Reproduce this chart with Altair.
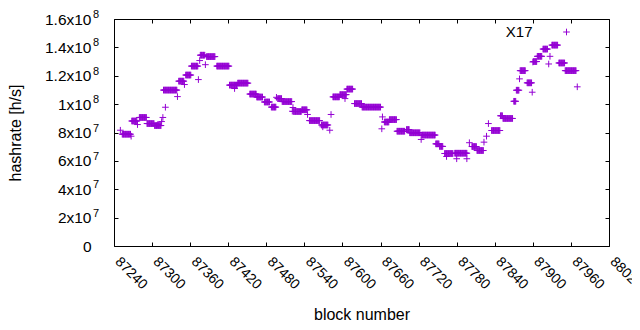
import altair as alt
import pandas as pd

# ---- data (hashrate values in units of 1e7 h/s) ----
# runs of consecutive blocks that share one hashrate value
plat_start = [87253, 87268, 87280, 87292, 87304, 87318, 87342, 87353, 87362, 87376,
              87386, 87402, 87422, 87435, 87454, 87465, 87477, 87488, 87498, 87505,
              87523, 87536, 87548, 87567, 87585, 87596, 87607, 87619, 87631, 87666,
              87674, 87686, 87701, 87706, 87725, 87747, 87753, 87761, 87777, 87804,
              87812, 87835, 87849, 87853, 87870, 87874, 87880, 87891, 87901, 87907,
              87916, 87930, 87941, 87951]
plat_end = [87266, 87276, 87291, 87303, 87314, 87339, 87350, 87361, 87372, 87383,
            87399, 87421, 87434, 87451, 87464, 87474, 87485, 87495, 87504, 87520,
            87535, 87544, 87564, 87577, 87595, 87606, 87616, 87630, 87660, 87673,
            87685, 87698, 87705, 87722, 87746, 87752, 87758, 87774, 87796, 87811,
            87822, 87848, 87852, 87868, 87873, 87878, 87888, 87898, 87906, 87914,
            87923, 87939, 87950, 87968]
plat_val = [7.88, 8.81, 9.06, 8.63, 8.49, 10.99, 11.62, 12.05, 12.68, 13.45,
            13.35, 12.68, 11.34, 11.48, 10.71, 10.50, 10.15, 9.79, 10.39, 10.18,
            9.48, 9.60, 8.84, 8.53, 10.51, 10.67, 11.06, 10.04, 9.79, 8.74,
            8.91, 8.09, 8.21, 7.98, 7.82, 7.20, 7.02, 6.52, 6.54, 7.01,
            6.73, 8.14, 9.18, 8.99, 10.20, 10.98, 12.36, 11.50, 13.00, 13.37,
            13.88, 14.16, 12.90, 12.36]

# single scattered blocks
pt_block = [87250, 87267, 87277, 87309, 87315, 87317, 87321, 87340, 87351, 87373,
            87375, 87384, 87430, 87496, 87521, 87522, 87545, 87569, 87580, 87582,
            87604, 87662, 87663, 87724, 87764, 87780, 87796, 87800, 87823, 87827,
            87830, 87879, 87899, 87900, 87925, 87927, 87970]
pt_val = [8.16, 7.74, 8.56, 8.56, 8.77, 9.06, 9.78, 10.53, 11.38, 11.73,
          13.07, 12.78, 11.10, 10.48, 9.50, 9.76, 9.27, 8.40, 8.16, 9.27,
          10.39, 8.26, 9.10, 7.51, 6.31, 6.15, 6.15, 7.28, 7.32, 7.74,
          8.63, 11.78, 10.84, 12.97, 12.83, 13.37, 11.22]

series_name = "X17"
x_ticks = [87240, 87300, 87360, 87420, 87480, 87540, 87600, 87660, 87720,
           87780, 87840, 87900, 87960, 88020]
y_ticks = [0, 2e7, 4e7, 6e7, 8e7, 1e8, 1.2e8, 1.4e8, 1.6e8]
y_tick_mant = ["0", "2x10", "4x10", "6x10", "8x10", "1x10", "1.2x10", "1.4x10", "1.6x10"]
y_tick_exp = ["", "7", "7", "7", "7", "8", "8", "8", "8"]

rows = []
for s, e, v in zip(plat_start, plat_end, plat_val):
    for b in range(s, e + 1):
        rows.append({"block": b, "hashrate": v * 1e7, "series": series_name})
for b, v in zip(pt_block, pt_val):
    rows.append({"block": b, "hashrate": v * 1e7, "series": series_name})
df = pd.DataFrame(rows)
key_df = pd.DataFrame({"series": [series_name]})
exp_df = pd.DataFrame({"tick": y_ticks, "exp": y_tick_exp})
exp_df = exp_df[exp_df["exp"] != ""]

PLUS = "M-1,0L1,0M0,-1L0,1"
FONT = "Liberation Sans"
PURPLE = "#9400D3"

ylabel_expr = "[" + ",".join("'" + t + "'" for t in y_tick_mant) + "][round(datum.value/20000000)]"

xscale = alt.Scale(domain=[x_ticks[0], x_ticks[-1]], nice=False, zero=False)
yscale = alt.Scale(domain=[y_ticks[0], y_ticks[-1]], nice=False, zero=True)
cscale = alt.Scale(domain=[series_name], range=[PURPLE])

points = alt.Chart(df).mark_point(
    shape=PLUS, filled=False, size=44, strokeWidth=1, opacity=1
).encode(
    x=alt.X("block:Q", scale=xscale,
            axis=alt.Axis(values=x_ticks, format="d", title="block number", orient="bottom",
                          offset=-4, tickSize=4, domain=False, grid=False,
                          labelAngle=45, labelAlign="left", labelBaseline="alphabetic",
                          labelPadding=16, labelFontSize=14, labelFont=FONT,
                          labelColor="black", tickColor="black",
                          titleFont=FONT, titleFontSize=16, titleFontWeight="normal",
                          titleColor="black", titleX=247.5, titleY=72,
                          titleBaseline="middle", titleAlign="center",
                          labelOverlap=False, labelFlush=False)),
    y=alt.Y("hashrate:Q", scale=yscale,
            axis=alt.Axis(values=y_ticks, labelExpr=ylabel_expr, title="hashrate [h/s]",
                          orient="left", offset=-4, tickSize=4, domain=False, grid=False,
                          labelPadding=23, labelFontSize=15.5, labelFont=FONT,
                          labelColor="black", tickColor="black",
                          titleFont=FONT, titleFontSize=16, titleFontWeight="normal",
                          titleColor="black", titleX=-103, titleY=113.5,
                          titleAngle=-90, titleBaseline="middle", titleAlign="center",
                          labelOverlap=False, labelFlush=False)),
    color=alt.Color("series:N", scale=cscale, legend=None),
)

# superscript exponents of the y tick labels (gnuplot enhanced text)
exps = alt.Chart(exp_df).mark_text(
    align="left", baseline="middle", font=FONT, fontSize=11, color="black", dy=-4
).encode(x=alt.value(-21), y=alt.Y("tick:Q", scale=yscale, axis=None), text="exp:N")

mirror = alt.Chart(df).mark_point(opacity=0).encode(
    x=alt.X("block:Q", scale=xscale,
            axis=alt.Axis(values=x_ticks, orient="top", offset=-4, tickSize=4,
                          labels=False, domain=False, grid=False, title=None,
                          tickColor="black")),
    y=alt.Y("hashrate:Q", scale=yscale,
            axis=alt.Axis(values=y_ticks, orient="right", offset=-4, tickSize=4,
                          labels=False, domain=False, grid=False, title=None,
                          tickColor="black")),
)

# gnuplot-style key: title right-aligned, sample symbol to its right
key_text = alt.Chart(key_df).mark_text(
    align="right", baseline="middle", font=FONT, fontSize=15, color="black"
).encode(x=alt.value(418.5), y=alt.value(13), text="series:N")

key_symbol = alt.Chart(key_df).mark_point(
    shape=PLUS, filled=False, size=44, strokeWidth=1, opacity=1
).encode(x=alt.value(452.5), y=alt.value(13),
         color=alt.Color("series:N", scale=cscale, legend=None))

chart = alt.layer(points, mirror, exps, key_text, key_symbol).resolve_axis(
    x="independent", y="independent"
).properties(
    width=495, height=227,
    autosize=alt.AutoSizeParams(type="none"),
    padding={"left": 106, "top": 11, "right": 23, "bottom": 76},
    background="white",
).configure_view(stroke="black", strokeWidth=1)

chart.save("out.html", embed_options={"renderer": "svg", "actions": False})
